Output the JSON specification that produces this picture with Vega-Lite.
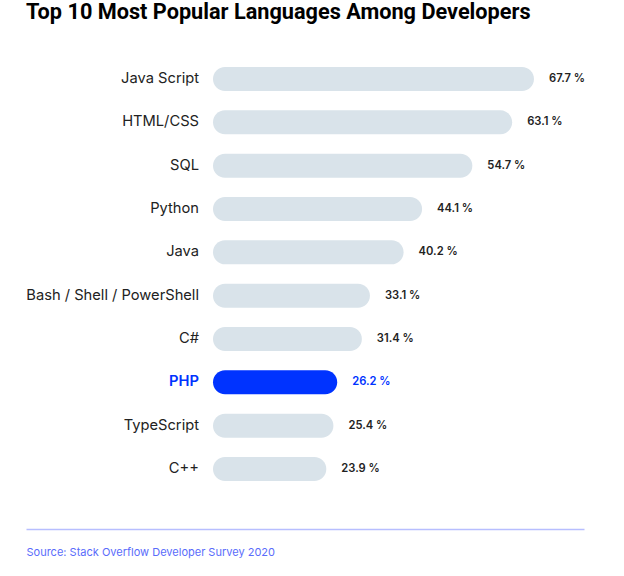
{
  "$schema": "https://vega.github.io/schema/vega-lite/v6.json",
  "width": 558,
  "height": 493,
  "autosize": {"type": "none"},
  "padding": {"left": 26, "top": 36, "right": 40, "bottom": 47},
  "background": "#ffffff",
  "title": {
    "text": "Top 10 Most Popular Languages Among Developers",
    "anchor": "start",
    "frame": "group",
    "font": "Roboto",
    "fontSize": 21.7,
    "fontWeight": "bold",
    "color": "#000000",
    "offset": 12
  },
  "config": {"view": {"stroke": null}},
  "data": {
    "values": [
      {"lang": "Java  Script", "value": 67.7},
      {"lang": "HTML/CSS", "value": 63.1},
      {"lang": "SQL", "value": 54.7},
      {"lang": "Python", "value": 44.1},
      {"lang": "Java", "value": 40.2},
      {"lang": "Bash / Shell / PowerShell", "value": 33.1},
      {"lang": "C#", "value": 31.4},
      {"lang": "PHP", "value": 26.2},
      {"lang": "TypeScript", "value": 25.4},
      {"lang": "C++", "value": 23.9}
    ]
  },
  "transform": [
    {"calculate": "format(datum.value, '.1f') + ' %'", "as": "label"}
  ],
  "encoding": {
    "y": {
      "field": "lang",
      "type": "nominal",
      "sort": null,
      "scale": {"paddingInner": 0, "paddingOuter": 0.6885, "align": 0.358},
      "axis": null
    }
  },
  "layer": [
    {
      "mark": {"type": "bar", "size": 24, "cornerRadius": 12},
      "encoding": {
        "x": {
          "field": "value",
          "type": "quantitative",
          "scale": {"domain": [-39.44, 78.25], "nice": false, "zero": false},
          "axis": {
            "orient": "bottom",
            "domain": true,
            "domainColor": "#b7beff",
            "domainWidth": 1.5,
            "ticks": false,
            "labels": false,
            "grid": false,
            "title": "Source: Stack Overflow Developer Survey 2020",
            "titleAnchor": "start",
            "titleFont": "Inter",
            "titleFontSize": 11,
            "titleFontWeight": "normal",
            "titleColor": "#5a6cfb",
            "titlePadding": 17
          }
        },
        "x2": {"datum": 0},
        "color": {
          "condition": {"test": "datum.lang === 'PHP'", "value": "#0033ff"},
          "value": "#d9e3ea"
        }
      }
    },
    {
      "transform": [{"filter": "datum.lang !== 'PHP'"}],
      "mark": {"type": "text", "align": "right", "baseline": "middle", "dx": -14, "font": "Inter", "fontSize": 14.7, "color": "#222222"},
      "encoding": {
        "x": {"datum": 0},
        "text": {"field": "lang"}
      }
    },
    {
      "transform": [{"filter": "datum.lang === 'PHP'"}],
      "mark": {"type": "text", "align": "right", "baseline": "middle", "dx": -14, "font": "Inter", "fontSize": 14.7, "fontWeight": 600, "color": "#0033ff"},
      "encoding": {
        "x": {"datum": 0},
        "text": {"field": "lang"}
      }
    },
    {
      "mark": {"type": "text", "align": "left", "baseline": "middle", "dx": 15, "font": "Inter", "fontSize": 11.2, "fontWeight": 600},
      "encoding": {
        "x": {"field": "value", "type": "quantitative"},
        "text": {"field": "label"},
        "color": {
          "condition": {"test": "datum.lang === 'PHP'", "value": "#0033ff"},
          "value": "#222222"
        }
      }
    }
  ]
}
